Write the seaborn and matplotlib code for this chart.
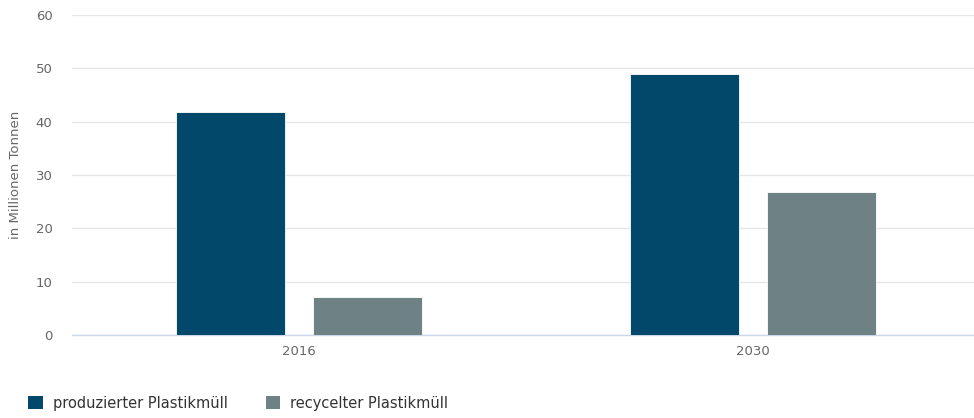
import matplotlib
matplotlib.use("Agg")
import matplotlib.pyplot as plt
import seaborn as sns
import pandas as pd

years = ["2016", "2030"]
series = ["produzierter Plastikmüll", "recycelter Plastikmüll"]
produced = [41.8, 48.9]
recycled = [7.2, 26.8]
colors = ["#01486a", "#6e8286"]
yticks = [0, 10, 20, 30, 40, 50, 60]

df = pd.DataFrame({
    "Jahr": years * 2,
    "Serie": [series[0]] * len(years) + [series[1]] * len(years),
    "Wert": produced + recycled,
})

sns.set_theme(style="white")
plt.rcParams["font.family"] = ["DejaVu Sans"]

W, H = 974, 418
fig = plt.figure(figsize=(W / 100, H / 100), dpi=100)
ax = fig.add_axes([72 / W, (H - 335) / H, 908 / W, 320 / H])

sns.barplot(data=df, x="Jahr", y="Wert", hue="Serie", palette=colors,
            saturation=1, width=0.6, gap=0.2, ax=ax, legend=False,
            edgecolor="white", linewidth=0.6, zorder=3)

ax.set_xlim(-0.5, 1.5)
ax.set_ylim(0, 60)
ax.set_yticks(yticks)
ax.set_yticklabels([str(t) for t in yticks])
ax.grid(axis="y", color="#e6e6e6", linewidth=1, zorder=0)
ax.set_axisbelow(True)
for s in ["top", "right", "left"]:
    ax.spines[s].set_visible(False)
ax.spines["bottom"].set_color("#ccd6eb")
ax.spines["bottom"].set_linewidth(1)
ax.tick_params(axis="both", length=0, labelsize=9.5, colors="#666666")
ax.tick_params(axis="y", pad=14)
ax.tick_params(axis="x", pad=7)
ax.set_xlabel("")
ax.set_ylabel("in Millionen Tonnen", fontsize=9.5, color="#666666")
ax.yaxis.set_label_coords(-50 / 908, 0.5)

from matplotlib.patches import Patch
handles = [Patch(facecolor=c, edgecolor="none") for c in colors]
fig.legend(handles, series, loc="lower left", bbox_to_anchor=(15 / W, -6 / H),
           ncol=2, frameon=False, fontsize=10.5, handlelength=1.0, handleheight=1.0,
           handletextpad=0.7, columnspacing=2.6, labelcolor="#333333")

fig.savefig("out.png", dpi=100)
